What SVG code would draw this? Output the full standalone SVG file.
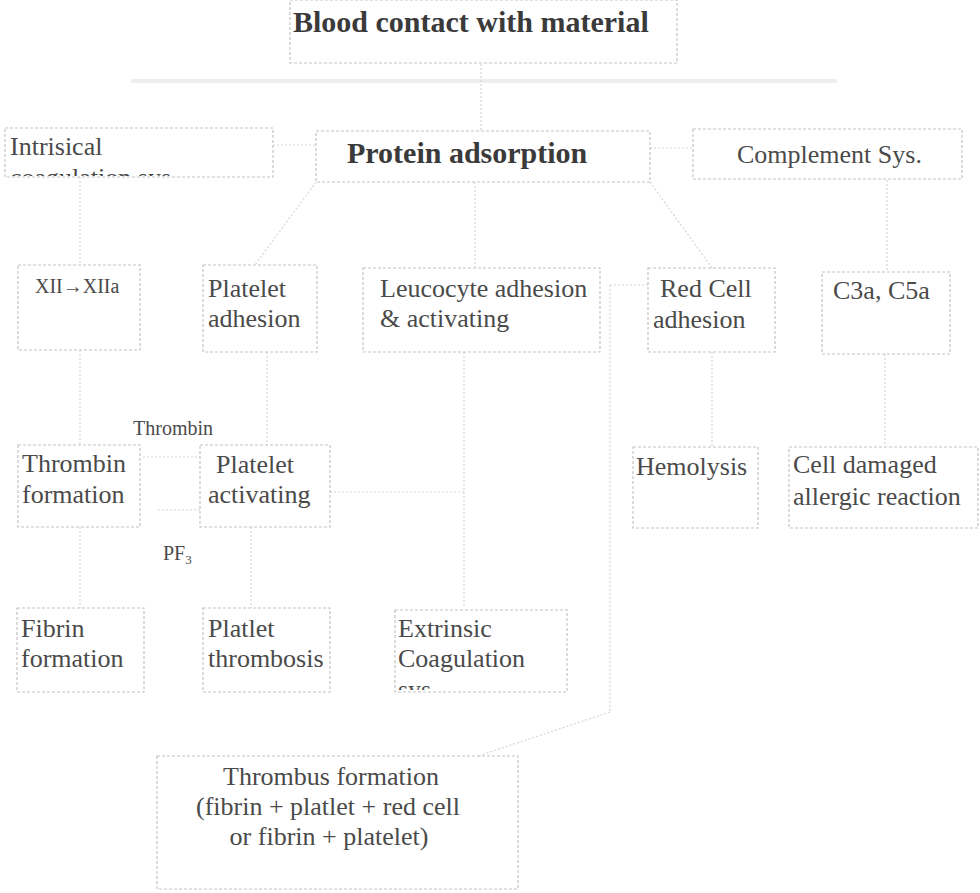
<svg xmlns="http://www.w3.org/2000/svg" width="980" height="893" viewBox="0 0 980 893">
<defs>
<style>
.bg{fill:#ffffff}
.box{fill:none;stroke:#c4c4c4;stroke-width:1.2;stroke-dasharray:3 2}
.con{fill:none;stroke:#d6d6d6;stroke-width:1.2;stroke-dasharray:2 2}
.band{fill:none;stroke:#eeeeee;stroke-width:4}
text{font-family:'Liberation Serif','Times New Roman','DejaVu Serif',serif}
.t{font-size:26px;fill:#4a4a4a}
.s{font-size:20px;fill:#4a4a4a}
.b{font-size:30px;font-weight:bold;fill:#3a3a3a}
</style>
<clipPath id="clipIntr"><rect x="0" y="0" width="980" height="176"/></clipPath>
<clipPath id="clipExt"><rect x="0" y="0" width="980" height="690"/></clipPath>
</defs>
<rect class="bg" x="0" y="0" width="980" height="893"/>

<g id="connectors">
  <line class="band" x1="131" y1="81" x2="837" y2="81"/>
  <line class="con" x1="481" y1="64" x2="481" y2="130"/>
  <line class="con" x1="273" y1="145" x2="316" y2="145"/>
  <line class="con" x1="650" y1="148" x2="693" y2="148"/>
  <line class="con" x1="80" y1="177" x2="80" y2="265"/>
  <line class="con" x1="316" y1="182" x2="255" y2="265"/>
  <line class="con" x1="475" y1="182" x2="475" y2="268"/>
  <line class="con" x1="650" y1="182" x2="712" y2="268"/>
  <line class="con" x1="887" y1="180" x2="887" y2="272"/>
  <line class="con" x1="80" y1="350" x2="80" y2="445"/>
  <line class="con" x1="267" y1="352" x2="267" y2="445"/>
  <line class="con" x1="712" y1="352" x2="712" y2="447"/>
  <line class="con" x1="885" y1="354" x2="885" y2="447"/>
  <line class="con" x1="464" y1="352" x2="464" y2="608"/>
  <line class="con" x1="330" y1="492" x2="464" y2="492"/>
  <line class="con" x1="143" y1="457" x2="200" y2="457"/>
  <line class="con" x1="158" y1="510" x2="200" y2="510"/>
  <line class="con" x1="80" y1="527" x2="80" y2="608"/>
  <line class="con" x1="251" y1="527" x2="251" y2="608"/>
  <line class="con" x1="610" y1="285" x2="648" y2="285"/>
  <line class="con" x1="610" y1="285" x2="610" y2="712"/>
  <line class="con" x1="610" y1="712" x2="478" y2="756"/>
</g>

<g id="n-blood">
  <rect class="box" x="290" y="0" width="387" height="63"/>
  <text class="b" x="293" y="32">Blood contact with material</text>
</g>
<g id="n-intrisical">
  <rect class="box" x="5" y="128" width="268" height="49"/>
  <text class="t" x="10" y="155">Intrisical</text>
  <text class="t" x="10" y="186" clip-path="url(#clipIntr)">coagulation sys.</text>
</g>
<g id="n-protein">
  <rect class="box" x="316" y="131" width="334" height="51"/>
  <text class="b" x="347" y="163">Protein adsorption</text>
</g>
<g id="n-complement">
  <rect class="box" x="693" y="129" width="269" height="50"/>
  <text class="t" x="737" y="163">Complement Sys.</text>
</g>

<g id="n-xii">
  <rect class="box" x="18" y="265" width="122" height="85"/>
  <text class="s" x="35" y="293">XII→XIIa</text>
</g>
<g id="n-pladh">
  <rect class="box" x="203" y="265" width="114" height="87"/>
  <text class="t" x="208" y="297">Platelet</text>
  <text class="t" x="208" y="327">adhesion</text>
</g>
<g id="n-leuco">
  <rect class="box" x="363" y="268" width="237" height="84"/>
  <text class="t" x="380" y="297">Leucocyte adhesion</text>
  <text class="t" x="380" y="327">&amp; activating</text>
</g>
<g id="n-redcell">
  <rect class="box" x="648" y="268" width="127" height="84"/>
  <text class="t" x="660" y="297">Red Cell</text>
  <text class="t" x="653" y="328">adhesion</text>
</g>
<g id="n-c3a">
  <rect class="box" x="822" y="272" width="128" height="82"/>
  <text class="t" x="833" y="299">C3a, C5a</text>
</g>

<g id="l-thrombin">
  <text class="s" x="133" y="435">Thrombin</text>
</g>
<g id="n-thromform">
  <rect class="box" x="18" y="445" width="122" height="82"/>
  <text class="t" x="22" y="472">Thrombin</text>
  <text class="t" x="22" y="503">formation</text>
</g>
<g id="n-placti">
  <rect class="box" x="200" y="445" width="130" height="82"/>
  <text class="t" x="216" y="473">Platelet</text>
  <text class="t" x="208" y="503">activating</text>
</g>
<g id="n-hemolysis">
  <rect class="box" x="633" y="447" width="125" height="81"/>
  <text class="t" x="636" y="475">Hemolysis</text>
</g>
<g id="n-celldam">
  <rect class="box" x="789" y="447" width="189" height="81"/>
  <text class="t" x="793" y="473">Cell damaged</text>
  <text class="t" x="793" y="505">allergic reaction</text>
</g>

<g id="l-pf3">
  <text class="s" x="163" y="560">PF<tspan font-size="13" dy="4">3</tspan></text>
</g>

<g id="n-fibrin">
  <rect class="box" x="17" y="608" width="127" height="84"/>
  <text class="t" x="21" y="637">Fibrin</text>
  <text class="t" x="21" y="667">formation</text>
</g>
<g id="n-platthromb">
  <rect class="box" x="203" y="608" width="127" height="84"/>
  <text class="t" x="208" y="637">Platlet</text>
  <text class="t" x="208" y="667">thrombosis</text>
</g>
<g id="n-extrinsic">
  <rect class="box" x="395" y="610" width="172" height="82"/>
  <text class="t" x="398" y="637">Extrinsic</text>
  <text class="t" x="398" y="667">Coagulation</text>
  <text class="t" x="398" y="698" clip-path="url(#clipExt)">sys.</text>
</g>

<g id="n-thrombus">
  <rect class="box" x="157" y="756" width="361" height="133"/>
  <text class="t" x="331" y="785" text-anchor="middle">Thrombus formation</text>
  <text class="t" x="328" y="815" text-anchor="middle">(fibrin + platlet + red cell</text>
  <text class="t" x="329" y="845" text-anchor="middle">or fibrin + platelet)</text>
</g>
</svg>
